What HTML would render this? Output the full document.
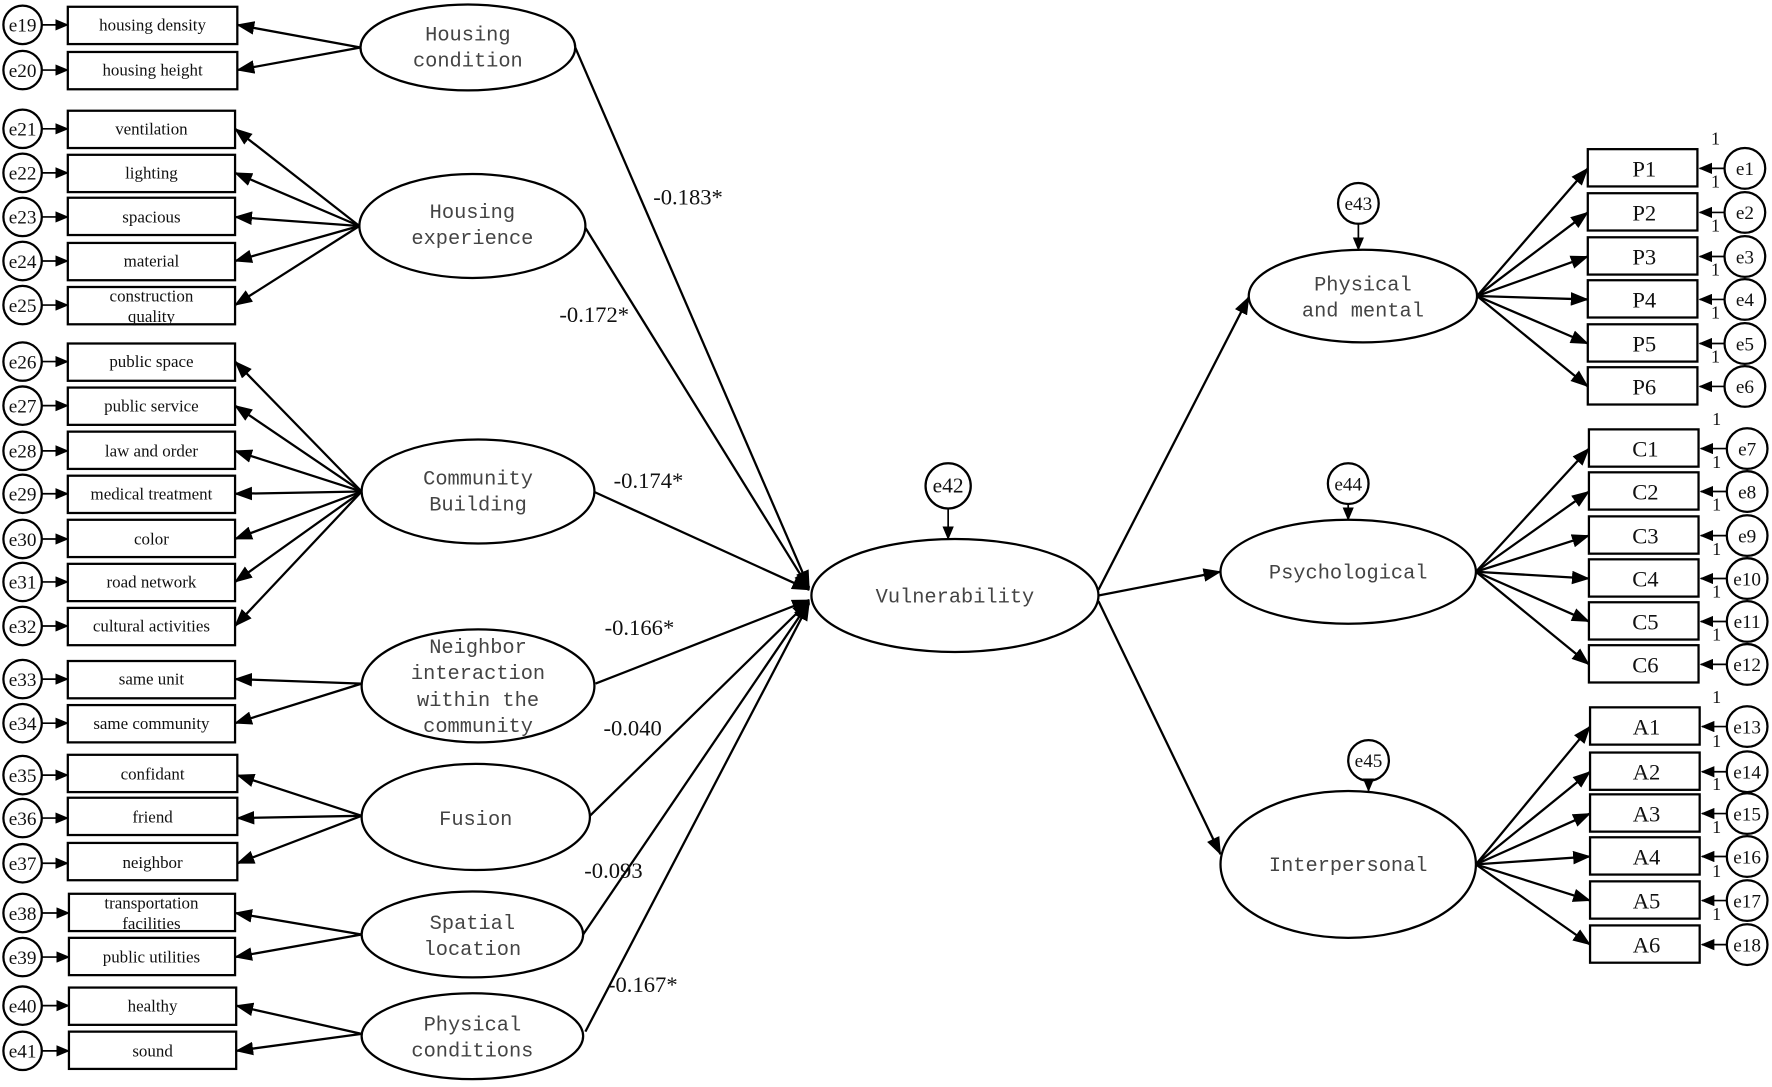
<!DOCTYPE html>
<html><head><meta charset="utf-8"><style>
html,body{margin:0;padding:0;background:#fff;}
svg{display:block;}
.ind{font-family:"Liberation Serif",serif;font-size:15px;fill:#111;text-anchor:middle;}
.lat{font-family:"Liberation Mono",monospace;font-size:18px;fill:#444;text-anchor:middle;}
.e{font-family:"Liberation Serif",serif;font-size:17px;fill:#111;text-anchor:middle;}
.num{font-family:"Liberation Serif",serif;font-size:20px;fill:#111;}
.code{font-family:"Liberation Serif",serif;font-size:20px;fill:#111;text-anchor:middle;}
.one{font-family:"Liberation Serif",serif;font-size:16px;fill:#111;}
</style></head><body>
<svg width="1772" height="1087" viewBox="0 0 1568 962" preserveAspectRatio="none" xmlns="http://www.w3.org/2000/svg">
<defs>
<marker id="a" markerUnits="userSpaceOnUse" markerWidth="16" markerHeight="12" refX="15" refY="6" orient="auto"><path d="M0,0 L16,6 L0,12 z" fill="#000"/></marker>
<marker id="s" markerUnits="userSpaceOnUse" markerWidth="12" markerHeight="10" refX="11" refY="5" orient="auto"><path d="M0,0 L12,5 L0,10 z" fill="#000"/></marker>
</defs>
<g stroke="#000" stroke-width="2" fill="none">
<!-- left boxes -->
<g id="left">
</g>
</g>
<g stroke="#000" stroke-width="2" fill="#fff">
<!-- Left indicators: y centers -->
<rect x="60" y="6" width="150" height="33"/><rect x="60" y="46" width="150" height="33"/>
<rect x="60" y="98" width="148" height="33"/><rect x="60" y="137" width="148" height="33"/><rect x="60" y="175" width="148" height="33"/><rect x="60" y="215" width="148" height="33"/><rect x="60" y="254" width="148" height="33"/>
<rect x="60" y="304" width="148" height="33"/><rect x="60" y="343" width="148" height="33"/><rect x="60" y="382" width="148" height="33"/><rect x="60" y="421" width="148" height="33"/><rect x="60" y="460" width="148" height="33"/><rect x="60" y="499" width="148" height="33"/><rect x="60" y="538" width="148" height="33"/>
<rect x="60" y="585" width="148" height="33"/><rect x="60" y="624" width="148" height="33"/>
<rect x="60" y="668" width="150" height="33"/><rect x="60" y="706" width="150" height="33"/><rect x="60" y="746" width="150" height="33"/>
<rect x="61" y="791" width="147" height="33"/><rect x="61" y="830" width="147" height="33"/>
<rect x="61" y="874" width="148" height="33"/><rect x="61" y="913" width="148" height="33"/>
</g>
<g stroke="#000" stroke-width="2" fill="#fff">
<circle cx="20" cy="22" r="17"/><circle cx="20" cy="62" r="17"/>
<circle cx="20" cy="114" r="17"/><circle cx="20" cy="153" r="17"/><circle cx="20" cy="192" r="17"/><circle cx="20" cy="231" r="17"/><circle cx="20" cy="270" r="17"/>
<circle cx="20" cy="320" r="17"/><circle cx="20" cy="359" r="17"/><circle cx="20" cy="399" r="17"/><circle cx="20" cy="437" r="17"/><circle cx="20" cy="477" r="17"/><circle cx="20" cy="515" r="17"/><circle cx="20" cy="554" r="17"/>
<circle cx="20" cy="601" r="17"/><circle cx="20" cy="640" r="17"/>
<circle cx="20" cy="686" r="17"/><circle cx="20" cy="724" r="17"/><circle cx="20" cy="764" r="17"/>
<circle cx="20" cy="808" r="17"/><circle cx="20" cy="847" r="17"/>
<circle cx="20" cy="890" r="17"/><circle cx="20" cy="930" r="17"/>
</g>
<g stroke="#000" stroke-width="1.5" marker-end="url(#s)">
<line x1="37" y1="22" x2="60" y2="22"/><line x1="37" y1="62" x2="60" y2="62"/>
<line x1="37" y1="114" x2="60" y2="114"/><line x1="37" y1="153" x2="60" y2="153"/><line x1="37" y1="192" x2="60" y2="192"/><line x1="37" y1="231" x2="60" y2="231"/><line x1="37" y1="270" x2="60" y2="270"/>
<line x1="37" y1="320" x2="60" y2="320"/><line x1="37" y1="359" x2="60" y2="359"/><line x1="37" y1="399" x2="60" y2="399"/><line x1="37" y1="437" x2="60" y2="437"/><line x1="37" y1="477" x2="60" y2="477"/><line x1="37" y1="515" x2="60" y2="515"/><line x1="37" y1="554" x2="60" y2="554"/>
<line x1="37" y1="601" x2="60" y2="601"/><line x1="37" y1="640" x2="60" y2="640"/>
<line x1="37" y1="686" x2="60" y2="686"/><line x1="37" y1="724" x2="60" y2="724"/><line x1="37" y1="764" x2="60" y2="764"/>
<line x1="37" y1="808" x2="61" y2="808"/><line x1="37" y1="847" x2="61" y2="847"/>
<line x1="37" y1="890" x2="61" y2="890"/><line x1="37" y1="930" x2="61" y2="930"/>
</g>
<g class="e">
<text x="20" y="28">e19</text><text x="20" y="68">e20</text>
<text x="20" y="120">e21</text><text x="20" y="159">e22</text><text x="20" y="198">e23</text><text x="20" y="237">e24</text><text x="20" y="276">e25</text>
<text x="20" y="326">e26</text><text x="20" y="365">e27</text><text x="20" y="405">e28</text><text x="20" y="443">e29</text><text x="20" y="483">e30</text><text x="20" y="521">e31</text><text x="20" y="560">e32</text>
<text x="20" y="607">e33</text><text x="20" y="646">e34</text>
<text x="20" y="692">e35</text><text x="20" y="730">e36</text><text x="20" y="770">e37</text>
<text x="20" y="814">e38</text><text x="20" y="853">e39</text>
<text x="20" y="896">e40</text><text x="20" y="936">e41</text>
</g>
<g class="ind">
<text x="135" y="27">housing density</text><text x="135" y="67">housing height</text>
<text x="134" y="119">ventilation</text><text x="134" y="158">lighting</text><text x="134" y="197">spacious</text><text x="134" y="236">material</text>
<text x="134" y="267">construction</text><text x="134" y="285">quality</text>
<text x="134" y="325">public space</text><text x="134" y="364">public service</text><text x="134" y="404">law and order</text><text x="134" y="442">medical treatment</text><text x="134" y="482">color</text><text x="134" y="520">road network</text><text x="134" y="559">cultural activities</text>
<text x="134" y="606">same unit</text><text x="134" y="645">same community</text>
<text x="135" y="690">confidant</text><text x="135" y="728">friend</text><text x="135" y="768">neighbor</text>
<text x="134" y="804">transportation</text><text x="134" y="822">facilities</text><text x="134" y="852">public utilities</text>
<text x="135" y="895">healthy</text><text x="135" y="935">sound</text>
</g>
<!-- latent -> indicator arrows -->
<g stroke="#000" stroke-width="2" marker-end="url(#a)">
<line x1="319" y1="42" x2="210" y2="22"/><line x1="319" y1="42" x2="210" y2="62"/>
<line x1="318" y1="200" x2="208" y2="114"/><line x1="318" y1="200" x2="208" y2="153"/><line x1="318" y1="200" x2="208" y2="192"/><line x1="318" y1="200" x2="208" y2="231"/><line x1="318" y1="200" x2="208" y2="270"/>
<line x1="320" y1="435" x2="208" y2="320"/><line x1="320" y1="435" x2="208" y2="359"/><line x1="320" y1="435" x2="208" y2="399"/><line x1="320" y1="435" x2="208" y2="437"/><line x1="320" y1="435" x2="208" y2="477"/><line x1="320" y1="435" x2="208" y2="515"/><line x1="320" y1="435" x2="208" y2="554"/>
<line x1="320" y1="605" x2="208" y2="601"/><line x1="320" y1="605" x2="208" y2="640"/>
<line x1="320" y1="722" x2="210" y2="686"/><line x1="320" y1="722" x2="210" y2="724"/><line x1="320" y1="722" x2="210" y2="764"/>
<line x1="320" y1="827" x2="208" y2="808"/><line x1="320" y1="827" x2="208" y2="847"/>
<line x1="320" y1="915" x2="209" y2="890"/><line x1="320" y1="915" x2="209" y2="930"/>
</g>
<!-- paths to vulnerability -->
<g stroke="#000" stroke-width="2" marker-end="url(#a)" fill="none">
<line x1="509" y1="42" x2="716" y2="520"/>
<line x1="517" y1="200" x2="716" y2="521"/>
<line x1="525" y1="435" x2="716" y2="522"/>
<line x1="527" y1="605" x2="716" y2="531"/>
<line x1="522" y1="722" x2="716" y2="532"/>
<line x1="516" y1="827" x2="716" y2="533"/>
<line x1="518" y1="913" x2="716" y2="534"/>
</g>
<!-- latent ellipses -->
<g stroke="#000" stroke-width="2" fill="#fff">
<ellipse cx="414" cy="42" rx="95" ry="38"/>
<ellipse cx="418" cy="200" rx="100" ry="46"/>
<ellipse cx="423" cy="435" rx="103" ry="46"/>
<ellipse cx="423" cy="607" rx="103" ry="50"/>
<ellipse cx="421" cy="723" rx="101" ry="47"/>
<ellipse cx="418" cy="827" rx="98" ry="38"/>
<ellipse cx="418" cy="917" rx="98" ry="38"/>
<ellipse cx="845" cy="527" rx="127" ry="50"/>
<ellipse cx="1206" cy="262" rx="101" ry="41"/>
<ellipse cx="1193" cy="506" rx="113" ry="46"/>
<ellipse cx="1193" cy="765" rx="113" ry="65"/>
</g>
<g class="lat">
<text x="414" y="36">Housing</text><text x="414" y="59">condition</text>
<text x="418" y="193">Housing</text><text x="418" y="216">experience</text>
<text x="423" y="429">Community</text><text x="423" y="452">Building</text>
<text x="423" y="578">Neighbor</text><text x="423" y="601">interaction</text><text x="423" y="625">within the</text><text x="423" y="648">community</text>
<text x="421" y="730">Fusion</text>
<text x="418" y="822">Spatial</text><text x="418" y="845">location</text>
<text x="418" y="912">Physical</text><text x="418" y="935">conditions</text>
<text x="845" y="533">Vulnerability</text>
<text x="1206" y="257">Physical</text><text x="1206" y="280">and mental</text>
<text x="1193" y="512">Psychological</text>
<text x="1193" y="771">Interpersonal</text>
</g>
<g class="num">
<text x="578" y="181">-0.183*</text>
<text x="495" y="285">-0.172*</text>
<text x="543" y="432">-0.174*</text>
<text x="535" y="562">-0.166*</text>
<text x="534" y="651">-0.040</text>
<text x="517" y="777">-0.093</text>
<text x="538" y="878">-0.167*</text>
</g>
<!-- disturbances -->
<g stroke="#000" stroke-width="2" fill="#fff">
<circle cx="839" cy="430" r="20"/><circle cx="1202" cy="180" r="18"/><circle cx="1193" cy="428" r="18"/><circle cx="1211" cy="673" r="18"/>
</g>
<g stroke="#000" stroke-width="1.5" marker-end="url(#s)">
<line x1="839" y1="450" x2="839" y2="477"/>
<line x1="1202" y1="198" x2="1202" y2="221"/>
<line x1="1193" y1="446" x2="1193" y2="460"/>
<line x1="1211" y1="691" x2="1211" y2="700"/>
</g>
<g class="e" font-size="19">
<text x="839" y="436" style="font-size:19px">e42</text><text x="1202" y="186">e43</text><text x="1193" y="434">e44</text><text x="1211" y="679">e45</text>
</g>
<!-- vulnerability to outcomes -->
<g stroke="#000" stroke-width="2" marker-end="url(#a)">
<line x1="972" y1="522" x2="1105" y2="263"/>
<line x1="972" y1="527" x2="1080" y2="506"/>
<line x1="972" y1="532" x2="1080" y2="756"/>
</g>
<!-- right boxes -->
<g stroke="#000" stroke-width="2" fill="#fff">
<rect x="1405" y="132" width="97" height="33"/><rect x="1405" y="171" width="97" height="33"/><rect x="1405" y="210" width="97" height="33"/><rect x="1405" y="248" width="97" height="33"/><rect x="1405" y="287" width="97" height="33"/><rect x="1405" y="325" width="97" height="33"/>
<rect x="1406" y="380" width="97" height="33"/><rect x="1406" y="418" width="97" height="33"/><rect x="1406" y="457" width="97" height="33"/><rect x="1406" y="495" width="97" height="33"/><rect x="1406" y="533" width="97" height="33"/><rect x="1406" y="571" width="97" height="33"/>
<rect x="1407" y="626" width="97" height="33"/><rect x="1407" y="666" width="97" height="33"/><rect x="1407" y="703" width="97" height="33"/><rect x="1407" y="741" width="97" height="33"/><rect x="1407" y="780" width="97" height="33"/><rect x="1407" y="819" width="97" height="33"/>
<circle cx="1544" cy="149" r="18"/><circle cx="1544" cy="188" r="18"/><circle cx="1544" cy="227" r="18"/><circle cx="1544" cy="265" r="18"/><circle cx="1544" cy="304" r="18"/><circle cx="1544" cy="342" r="18"/>
<circle cx="1546" cy="397" r="18"/><circle cx="1546" cy="435" r="18"/><circle cx="1546" cy="474" r="18"/><circle cx="1546" cy="512" r="18"/><circle cx="1546" cy="550" r="18"/><circle cx="1546" cy="588" r="18"/>
<circle cx="1546" cy="643" r="18"/><circle cx="1546" cy="683" r="18"/><circle cx="1546" cy="720" r="18"/><circle cx="1546" cy="758" r="18"/><circle cx="1546" cy="797" r="18"/><circle cx="1546" cy="836" r="18"/>
</g>
<g stroke="#000" stroke-width="2" marker-end="url(#a)">
<line x1="1307" y1="262" x2="1405" y2="149"/><line x1="1307" y1="262" x2="1405" y2="188"/><line x1="1307" y1="262" x2="1405" y2="227"/><line x1="1307" y1="262" x2="1405" y2="265"/><line x1="1307" y1="262" x2="1405" y2="304"/><line x1="1307" y1="262" x2="1405" y2="342"/>
<line x1="1306" y1="506" x2="1406" y2="397"/><line x1="1306" y1="506" x2="1406" y2="435"/><line x1="1306" y1="506" x2="1406" y2="474"/><line x1="1306" y1="506" x2="1406" y2="512"/><line x1="1306" y1="506" x2="1406" y2="550"/><line x1="1306" y1="506" x2="1406" y2="588"/>
<line x1="1306" y1="765" x2="1407" y2="643"/><line x1="1306" y1="765" x2="1407" y2="683"/><line x1="1306" y1="765" x2="1407" y2="720"/><line x1="1306" y1="765" x2="1407" y2="758"/><line x1="1306" y1="765" x2="1407" y2="797"/><line x1="1306" y1="765" x2="1407" y2="836"/>
</g>
<g stroke="#000" stroke-width="1.5" marker-end="url(#s)">
<line x1="1526" y1="149" x2="1504" y2="149"/><line x1="1526" y1="188" x2="1504" y2="188"/><line x1="1526" y1="227" x2="1504" y2="227"/><line x1="1526" y1="265" x2="1504" y2="265"/><line x1="1526" y1="304" x2="1504" y2="304"/><line x1="1526" y1="342" x2="1504" y2="342"/>
<line x1="1528" y1="397" x2="1505" y2="397"/><line x1="1528" y1="435" x2="1505" y2="435"/><line x1="1528" y1="474" x2="1505" y2="474"/><line x1="1528" y1="512" x2="1505" y2="512"/><line x1="1528" y1="550" x2="1505" y2="550"/><line x1="1528" y1="588" x2="1505" y2="588"/>
<line x1="1528" y1="643" x2="1506" y2="643"/><line x1="1528" y1="683" x2="1506" y2="683"/><line x1="1528" y1="720" x2="1506" y2="720"/><line x1="1528" y1="758" x2="1506" y2="758"/><line x1="1528" y1="797" x2="1506" y2="797"/><line x1="1528" y1="836" x2="1506" y2="836"/>
</g>
<g class="code">
<text x="1455" y="156">P1</text><text x="1455" y="195">P2</text><text x="1455" y="234">P3</text><text x="1455" y="272">P4</text><text x="1455" y="311">P5</text><text x="1455" y="349">P6</text>
<text x="1456" y="404">C1</text><text x="1456" y="442">C2</text><text x="1456" y="481">C3</text><text x="1456" y="519">C4</text><text x="1456" y="557">C5</text><text x="1456" y="595">C6</text>
<text x="1457" y="650">A1</text><text x="1457" y="690">A2</text><text x="1457" y="727">A3</text><text x="1457" y="765">A4</text><text x="1457" y="804">A5</text><text x="1457" y="843">A6</text>
</g>
<g class="e">
<text x="1544" y="155">e1</text><text x="1544" y="194">e2</text><text x="1544" y="233">e3</text><text x="1544" y="271">e4</text><text x="1544" y="310">e5</text><text x="1544" y="348">e6</text>
<text x="1546" y="403">e7</text><text x="1546" y="441">e8</text><text x="1546" y="480">e9</text><text x="1546" y="518">e10</text><text x="1546" y="556">e11</text><text x="1546" y="594">e12</text>
<text x="1546" y="649">e13</text><text x="1546" y="689">e14</text><text x="1546" y="726">e15</text><text x="1546" y="764">e16</text><text x="1546" y="803">e17</text><text x="1546" y="842">e18</text>
</g>
<g class="one">
<text x="1514" y="128">1</text><text x="1514" y="166">1</text><text x="1514" y="205">1</text><text x="1514" y="244">1</text><text x="1514" y="282">1</text><text x="1514" y="321">1</text>
<text x="1515" y="376">1</text><text x="1515" y="414">1</text><text x="1515" y="452">1</text><text x="1515" y="491">1</text><text x="1515" y="529">1</text><text x="1515" y="567">1</text>
<text x="1515" y="622">1</text><text x="1515" y="661">1</text><text x="1515" y="699">1</text><text x="1515" y="737">1</text><text x="1515" y="776">1</text><text x="1515" y="814">1</text>
</g>
</svg>
</body></html>
